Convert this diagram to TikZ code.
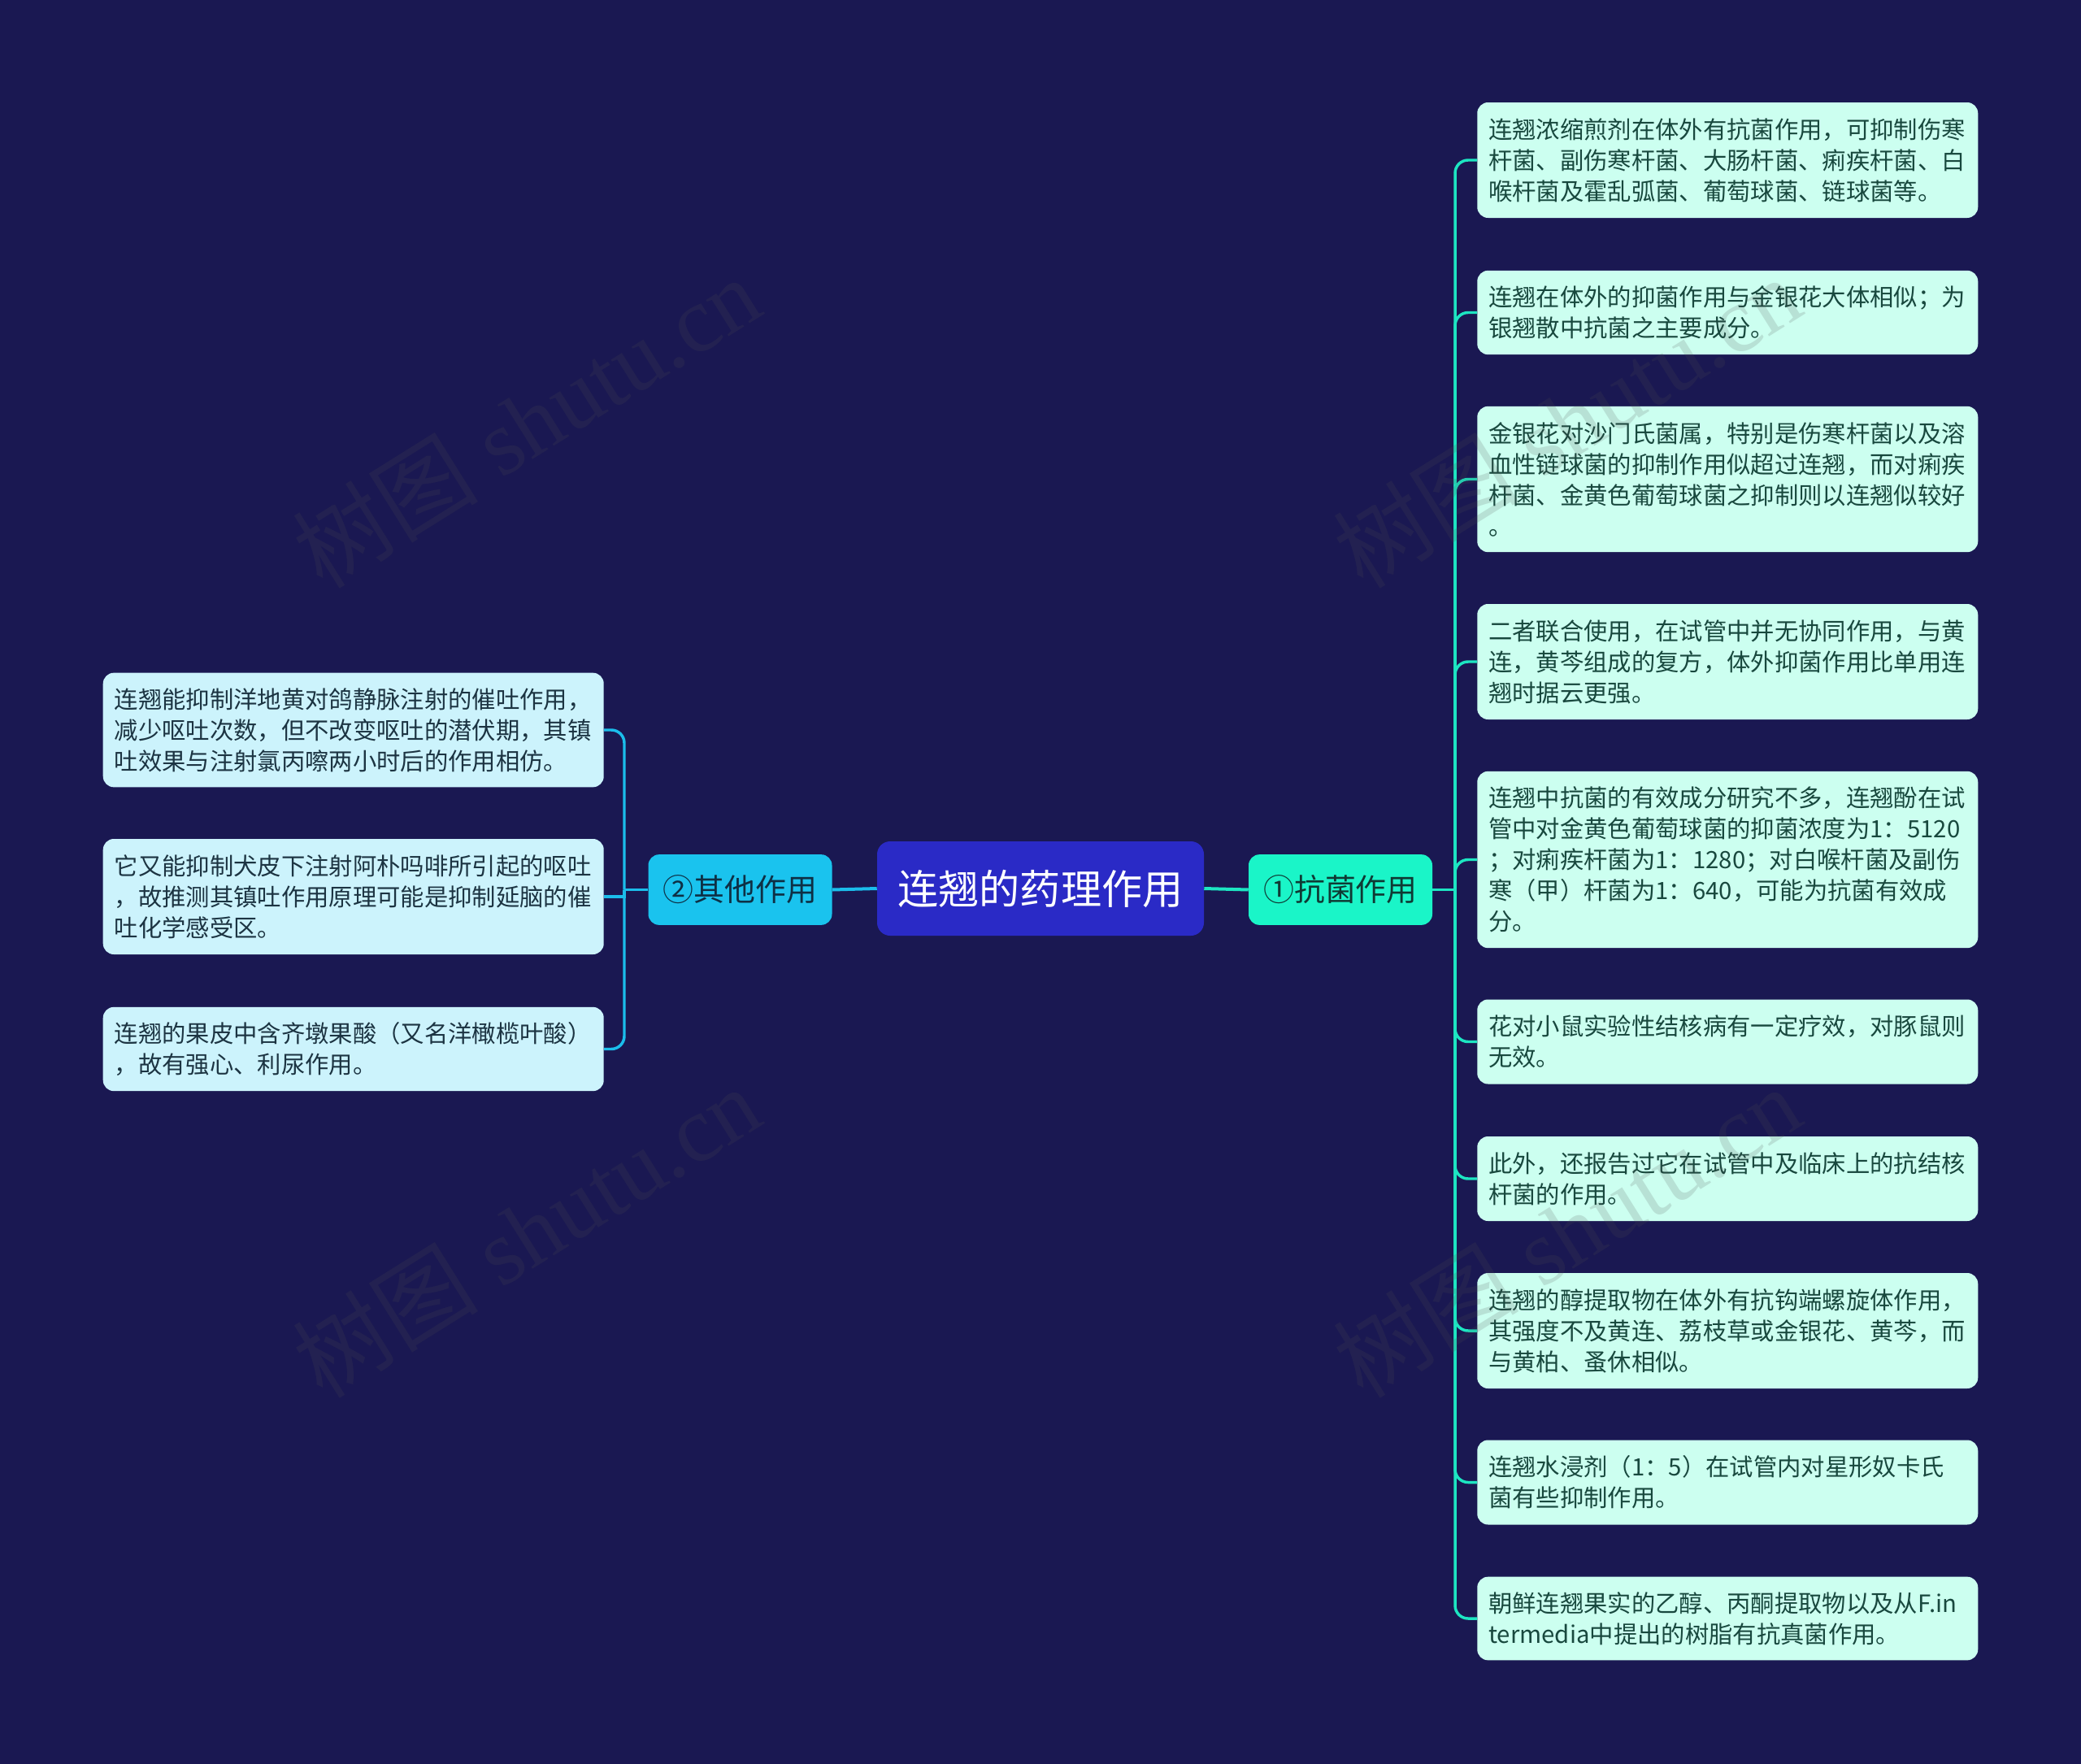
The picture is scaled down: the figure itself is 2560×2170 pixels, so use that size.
\documentclass[tikz,border=0pt]{standalone}
\usepackage{fontspec}
\setmainfont{Noto Sans CJK SC}
\newfontfamily\wmfont{Liberation Serif}
\newfontfamily\wmcjk{Noto Sans CJK SC}
\definecolor{bgcol}{HTML}{1A1852}
\definecolor{rootfill}{HTML}{2A2AC6}
\definecolor{k1fill}{HTML}{1AF5C8}
\definecolor{k2fill}{HTML}{1AC3EE}
\definecolor{leafRfill}{HTML}{CCFFF0}
\definecolor{leafLfill}{HTML}{CCF3FC}
\definecolor{leafRtext}{HTML}{18483E}
\definecolor{leafLtext}{HTML}{1C3442}
\definecolor{lineRcol}{HTML}{1DE5C2}
\definecolor{lineLcol}{HTML}{1BBDEB}
\definecolor{k1text}{HTML}{0F3A34}
\definecolor{k2text}{HTML}{0E3045}
\definecolor{wmcol}{HTML}{505050}
\tikzset{
  rootbox/.style={fill=rootfill, text=white, rounded corners=12pt, minimum width=301.5pt, minimum height=87pt, inner sep=0pt, font=\fontsize{37.6pt}{40pt}\selectfont},
  k1box/.style={fill=k1fill, text=k1text, rounded corners=10pt, minimum width=169.5pt, minimum height=65pt, inner sep=0pt, font=\fontsize{28.4pt}{30pt}\selectfont},
  k2box/.style={fill=k2fill, text=k2text, rounded corners=10pt, minimum width=169.5pt, minimum height=65pt, inner sep=0pt, font=\fontsize{28.4pt}{30pt}\selectfont},
  leafbase/.style={rounded corners=10pt, text width=441pt, inner xsep=10.5pt, inner ysep=0pt, align=left, font=\fontsize{22pt}{28.5pt}\selectfont},
  leafR/.style={leafbase, fill=leafRfill, text=leafRtext, anchor=west},
  leafL/.style={leafbase, fill=leafLfill, text=leafLtext, anchor=east},
  lineR/.style={draw=lineRcol, line width=2.6pt},
  lineL/.style={draw=lineLcol, line width=2.6pt},
  wm/.style={text=wmcol, text opacity=0.17, font=\fontsize{86pt}{86pt}\selectfont, inner sep=0pt}
}
\begin{document}
\begin{tikzpicture}[x=0.75pt,y=-0.75pt]
\fill[bgcol] (0,0) rectangle (2560,2170);
\useasboundingbox (0,0) rectangle (2560,2170);

% main nodes
\node[rootbox] (root) at (1280,1093) {连翘的药理作用};
\node[k1box] (k1) at (1649,1094.5) {①抗菌作用};
\node[k2box] (k2) at (910.5,1094.5) {②其他作用};

% right leaves
\node[leafR, minimum height=106.5pt] (r1) at (1817,197) {连翘浓缩煎剂在体外有抗菌作用，可抑制伤寒\\杆菌、副伤寒杆菌、大肠杆菌、痢疾杆菌、白\\喉杆菌及霍乱弧菌、葡萄球菌、链球菌等。};
\node[leafR, minimum height=77.5pt] (r2) at (1817,384.5) {连翘在体外的抑菌作用与金银花大体相似；为\\银翘散中抗菌之主要成分。};
\node[leafR, minimum height=134.5pt] (r3) at (1817,589.5) {金银花对沙门氏菌属，特别是伤寒杆菌以及溶\\血性链球菌的抑制作用似超过连翘，而对痢疾\\杆菌、金黄色葡萄球菌之抑制则以连翘似较好\\。};
\node[leafR, minimum height=106.5pt] (r4) at (1817,814) {二者联合使用，在试管中并无协同作用，与黄\\连，黄芩组成的复方，体外抑菌作用比单用连\\翘时据云更强。};
\node[leafR, minimum height=163pt] (r5) at (1817,1057.5) {连翘中抗菌的有效成分研究不多，连翘酚在试\\管中对金黄色葡萄球菌的抑菌浓度为1：5120\\；对痢疾杆菌为1：1280；对白喉杆菌及副伤\\寒（甲）杆菌为1：640，可能为抗菌有效成\\分。};
\node[leafR, minimum height=78pt] (r6) at (1817,1281.5) {花对小鼠实验性结核病有一定疗效，对豚鼠则\\无效。};
\node[leafR, minimum height=78pt] (r7) at (1817,1450) {此外，还报告过它在试管中及临床上的抗结核\\杆菌的作用。};
\node[leafR, minimum height=106.5pt] (r8) at (1817,1637) {连翘的醇提取物在体外有抗钩端螺旋体作用，\\其强度不及黄连、荔枝草或金银花、黄芩，而\\与黄柏、蚤休相似。};
\node[leafR, minimum height=78pt] (r9) at (1817,1823.5) {连翘水浸剂（1：5）在试管内对星形奴卡氏\\菌有些抑制作用。};
\node[leafR, minimum height=77pt] (r10) at (1817,1991) {朝鲜连翘果实的乙醇、丙酮提取物以及从F.in\\termedia中提出的树脂有抗真菌作用。};

% left leaves
\node[leafL, minimum height=105.5pt] (l1) at (743,898) {连翘能抑制洋地黄对鸽静脉注射的催吐作用，\\减少呕吐次数，但不改变呕吐的潜伏期，其镇\\吐效果与注射氯丙嚓两小时后的作用相仿。};
\node[leafL, minimum height=106.5pt] (l2) at (743,1103) {它又能抑制犬皮下注射阿朴吗啡所引起的呕吐\\，故推测其镇吐作用原理可能是抑制延脑的催\\吐化学感受区。};
\node[leafL, minimum height=77.5pt] (l3) at (743,1290.5) {连翘的果皮中含齐墩果酸（又名洋橄榄叶酸）\\，故有强心、利尿作用。};

% connectors
\coordinate (busR) at (1790,1094.5);
\coordinate (busL) at (768,1094.5);
\draw[lineR, line width=3pt] (root.east) -- (k1.west);
\draw[lineL, line width=3pt] (root.west) -- (k2.east);
\draw[lineR] (k1.east) -- (busR);
\draw[lineL] (k2.west) -- (busL);
\foreach \r in {r1,r2,r3,r4,r5,r6,r7,r8,r9,r10}{
  \draw[lineR, rounded corners=12pt] (busR) |- (\r.west);
}
\draw[lineL, rounded corners=12pt] (busL) |- (l1.east);
\draw[lineL] (busL) |- (l2.east);
\draw[lineL, rounded corners=12pt] (busL) |- (l3.east);

% watermarks
\node[wm, rotate=32] (w1) at (647,519) {\wmcjk 树图\wmfont\ shutu.cn};
\node[wm, rotate=32] (w2) at (647,1515) {\wmcjk 树图\wmfont\ shutu.cn};
\node[wm, rotate=32] (w3) at (1927,519) {\wmcjk 树图\wmfont\ shutu.cn};
\node[wm, rotate=32] (w4) at (1927,1515) {\wmcjk 树图\wmfont\ shutu.cn};
\end{tikzpicture}
\end{document}
